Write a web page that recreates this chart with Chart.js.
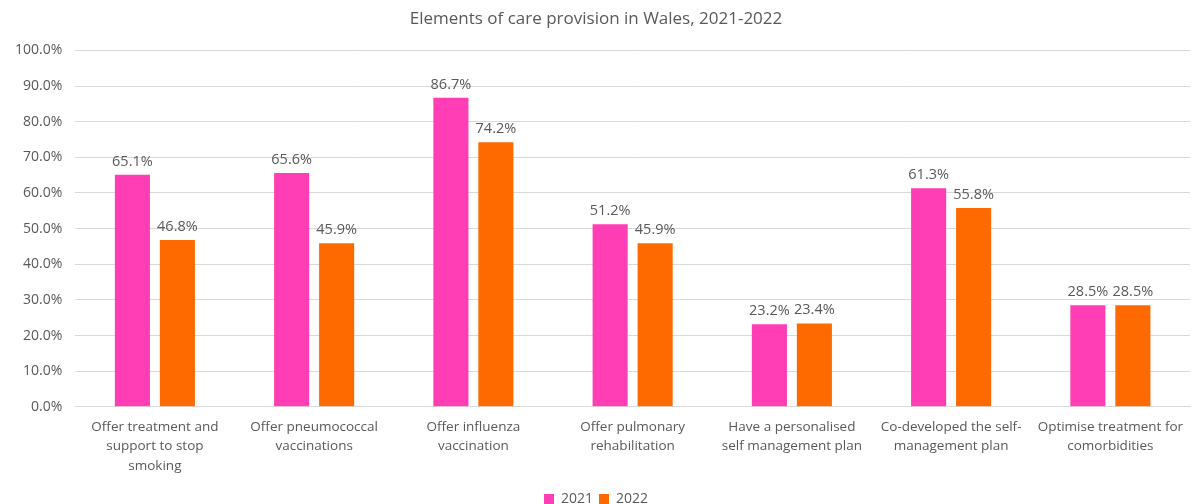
<!DOCTYPE html>
<html><head><meta charset="utf-8">
<script src="https://cdn.jsdelivr.net/npm/chart.js@4"></script>
<style>html,body{margin:0;padding:0;background:#fff}#w{width:1197px;height:504px}</style>
</head><body><div id="w"><canvas id="c"></canvas></div>
<script>
const categories = [
  ["Offer treatment and","support to stop","smoking"],
  ["Offer pneumococcal","vaccinations"],
  ["Offer influenza","vaccination"],
  ["Offer pulmonary","rehabilitation"],
  ["Have a personalised","self management plan"],
  ["Co-developed the self-","management plan"],
  ["Optimise treatment for","comorbidities"]
];
const values2021 = [65.1, 65.6, 86.7, 51.2, 23.2, 61.3, 28.5];
const values2022 = [46.8, 45.9, 74.2, 45.9, 23.4, 55.8, 28.5];
const seriesNames = ["2021", "2022"];
const FONT = "'Open Sans', 'Liberation Sans', sans-serif";
const TXT = '#595959';

const labelPlugin = {
  id: 'barLabels',
  afterDatasetsDraw(chart) {
    const ctx = chart.ctx;
    ctx.save();
    ctx.font = "14.5px " + FONT;
    ctx.fillStyle = TXT;
    ctx.textAlign = 'center';
    ctx.textBaseline = 'bottom';
    chart.data.datasets.forEach((ds, i) => {
      chart.getDatasetMeta(i).data.forEach((el, j) => {
        ctx.fillText(ds.data[j].toFixed(1) + '%', el.x, el.y - 6);
      });
    });
    ctx.restore();
  }
};

new Chart(document.getElementById('c'), {
  type: 'bar',
  data: {
    labels: categories,
    datasets: [
      {label: seriesNames[0], data: values2021, backgroundColor: '#FF3DB4', categoryPercentage: 0.565, barPercentage: 0.78},
      {label: seriesNames[1], data: values2022, backgroundColor: '#FF6A00', categoryPercentage: 0.565, barPercentage: 0.78}
    ]
  },
  options: {
    responsive: true, maintainAspectRatio: false, animation: false,
    layout: {padding: {left: 2, right: 7, top: 0, bottom: -12}},
    plugins: {
      title: {display: true, text: 'Elements of care provision in Wales, 2021-2022', color: TXT,
        font: {family: FONT, size: 17, weight: 'normal'}, padding: {top: 9, bottom: 21}},
      legend: {position: 'bottom', labels: {color: TXT, boxWidth: 10, boxHeight: 10, padding: 6,
        font: {family: FONT, size: 14, lineHeight: 1}}},
      tooltip: {enabled: false}
    },
    scales: {
      x: {
        grid: {display: false, drawTicks: false},
        border: {color: '#d9d9d9'},
        ticks: {color: TXT, font: {family: FONT, size: 13.5, lineHeight: 1.46}, maxRotation: 0, autoSkip: false, padding: 10}
      },
      y: {
        min: 0, max: 100,
        ticks: {stepSize: 10, color: TXT, font: {family: FONT, size: 14}, padding: 13,
          callback: v => v.toFixed(1) + '%'},
        grid: {color: '#d9d9d9', drawTicks: false},
        border: {display: false}
      }
    }
  },
  plugins: [labelPlugin]
});
</script></body></html>
